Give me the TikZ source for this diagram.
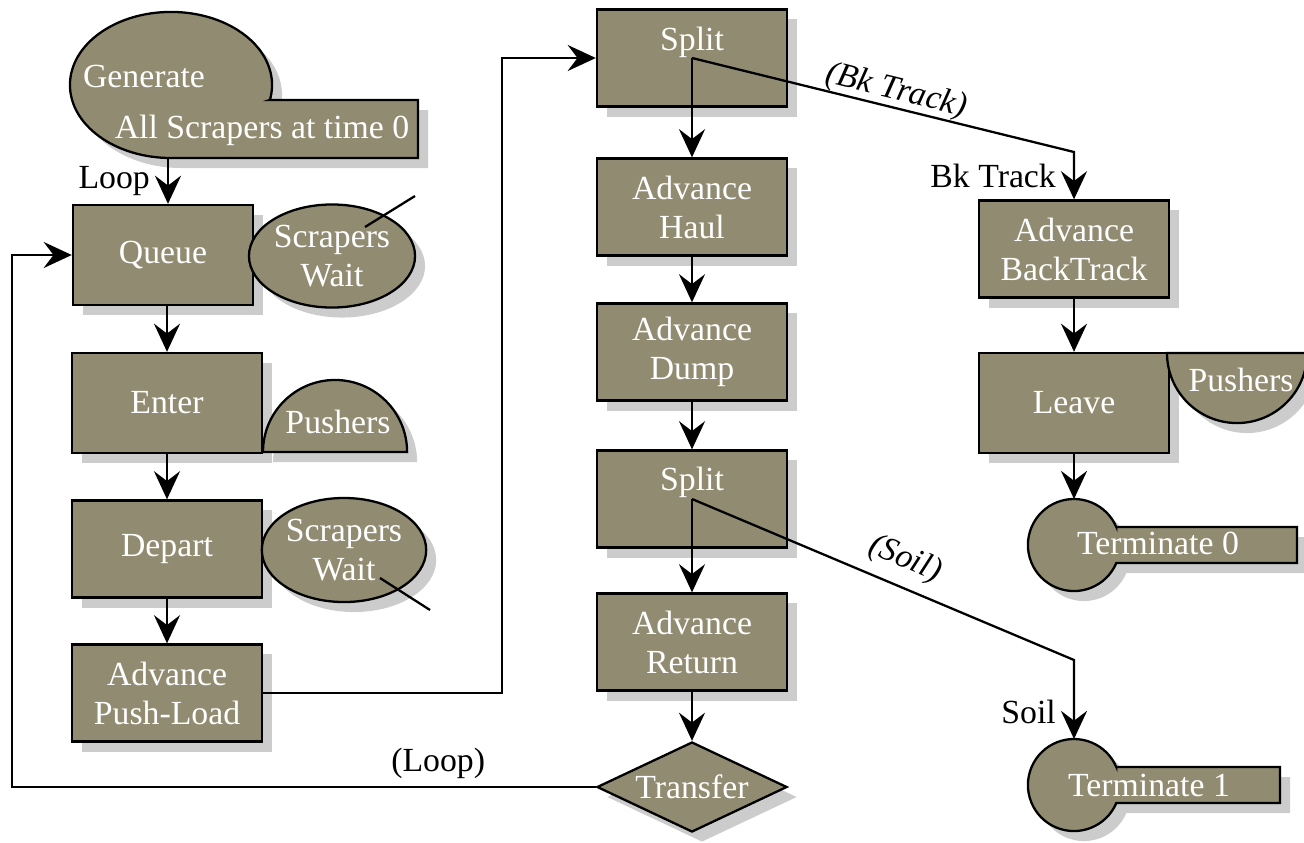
\documentclass[tikz,border=0pt]{standalone}
\usepackage{fontspec}
\setmainfont{Liberation Serif}
\usepackage{tikz}
\usetikzlibrary{arrows.meta, shapes.geometric, shadows, positioning}
\usepackage{xcolor}
\definecolor{boxfill}{HTML}{918B71}
\definecolor{shadowgray}{HTML}{CCCCCC}

\begin{document}
\begin{tikzpicture}[x=0.01cm, y=-0.01cm]

        % 1. Drawing area (pixel grid, y runs down)
        \useasboundingbox (0,0) rectangle (1304,842);

        \tikzset{
            dropgray/.style={drop shadow={shadow xshift=0.1cm, shadow yshift=-0.1cm, fill=shadowgray, opacity=1}},
            txt/.style={font=\fontsize{9.6}{11.1}\selectfont},
            blob/.style={draw=black, fill=boxfill, line width=0.65pt, dropgray},
            block/.style={blob, rectangle, minimum width=1.9cm, minimum height=0.97cm, inner sep=0pt, text=white, align=center, txt},
            bubble/.style={blob, ellipse, inner sep=0pt, text=white, align=center, txt},
            inside/.style={txt, text=white},
            flow/.style={line width=0.65pt, -{Stealth[length=8pt, width=7.4pt, inset=2.8pt]}},
            lbl/.style={txt, inner sep=2pt},
            lbli/.style={lbl, inner sep=0pt, font=\fontsize{9.6}{11.1}\selectfont\itshape}
        }

        % 2. Helper points for the bends and free ends
        \coordinate (genout) at (168,158);
        \coordinate (jog) at (502,0);
        \coordinate (loopx) at (12,0);
        \coordinate (bkbend) at (1074,152);
        \coordinate (soilbend) at (1074,660);
        \coordinate (term0in) at (1074,499);
        \coordinate (term1in) at (1074,739);

        % 3. Generate (ellipse joined to a bar)
        \draw[blob] (269.8,100) -- (418,100) -- (418,158) -- (171,158)
            arc[start angle=-90, end angle=-371.86, x radius=1.01cm, y radius=0.73cm] -- cycle;
        \node[inside] (gen) at (144,76) {Generate};
        \node[inside] (genall) at (262,130) {All Scrapers at time 0};

        % 4. Left column
        \node[block, minimum width=1.8cm, minimum height=1cm] (queue) at (163,255) {Queue};
        \node[block, minimum height=1cm] (enter) at (167,403) {Enter};
        \node[block] (depart) at (167,549) {Depart};
        \node[block] (pushload) at (167,693) {Advance\\Push-Load};

        % Resources beside the left column
        \node[bubble, minimum width=1.66cm, minimum height=1.03cm] (wait1) at (332,256) {Scrapers\\Wait};
        \draw[line width=0.65pt] (365,227) -- (415,196);
        \draw[blob] (263,452) arc[start angle=180, end angle=0, radius=0.72cm] -- cycle;
        \node[inside] (push1) at (338,422) {Pushers};
        \node[bubble, minimum width=1.62cm, minimum height=1.04cm] (wait2) at (344,550) {Scrapers\\Wait};
        \draw[line width=0.65pt] (380,578) -- (430,610);

        % 5. Middle column
        \node[block, label={[inside, yshift=0.16cm]center:Split}] (split1) at (692,58) {};
        \node[block] (haul) at (692,207) {Advance\\Haul};
        \node[block] (dump) at (692,352) {Advance\\Dump};
        \node[block, label={[inside, yshift=0.17cm]center:Split}] (split2) at (692,499) {};
        \node[block] (advreturn) at (692,642) {Advance\\Return};
        \node[blob, diamond, aspect=2.1, inner sep=0pt, minimum width=1.9cm, minimum height=0.9cm, text=white, txt] (transfer) at (692,787) {Transfer};

        % 6. Right column
        \node[block] (backtrack) at (1074,249) {Advance\\BackTrack};
        \node[block, minimum height=1cm] (leave) at (1074,403) {Leave};
        \draw[blob] (1167,353) arc[start angle=180, end angle=360, radius=0.7cm] -- cycle;
        \node[inside] (push2) at (1241,380) {Pushers};

        % Terminate blocks (circle joined to a bar)
        \draw[blob] (1116.3,527) -- (1297,527) -- (1297,563) -- (1116.3,563)
            arc[start angle=-23, end angle=-337, radius=0.46cm] -- cycle;
        \node[inside] (term0) at (1158,543) {Terminate 0};
        \draw[blob] (1116.3,767) -- (1280,767) -- (1280,803) -- (1116.3,803)
            arc[start angle=-23, end angle=-337, radius=0.46cm] -- cycle;
        \node[inside] (term1) at (1149,785) {Terminate 1};

        % 7. Connectors
        \draw[flow] (genout) -- node[lbl, left=0.1cm]{Loop} (genout |- queue.north);
        \draw[flow] (queue.south -| enter.north) -- (enter.north);
        \draw[flow] (enter) -- (depart);
        \draw[flow] (depart) -- (pushload);
        \draw[flow] (pushload.east) -- (jog |- pushload.east) |- (split1.west);

        \draw[flow] (split1.center) -- (haul);
        \draw[flow] (split1.center) -- node[lbli, sloped, above, pos=0.525]{(Bk Track)} (bkbend)
            -- node[lbl, left=0.1cm]{Bk Track} (backtrack);
        \draw[flow] (haul) -- (dump);
        \draw[flow] (dump) -- (split2);
        \draw[flow] (split2.center) -- (advreturn);
        \draw[flow] (split2.center) -- node[lbli, sloped, above=3pt, pos=0.53]{(Soil)} (soilbend)
            -- node[lbl, left=0.1cm, pos=0.66]{Soil} (term1in);
        \draw[flow] (advreturn) -- (transfer);
        \draw[flow] (transfer.west) -- node[lbl, above, pos=0.27]{(Loop)} (loopx |- transfer.west) |- (queue.west);

        \draw[flow] (backtrack) -- (leave);
        \draw[flow] (leave) -- (term0in);

\end{tikzpicture}
\end{document}
